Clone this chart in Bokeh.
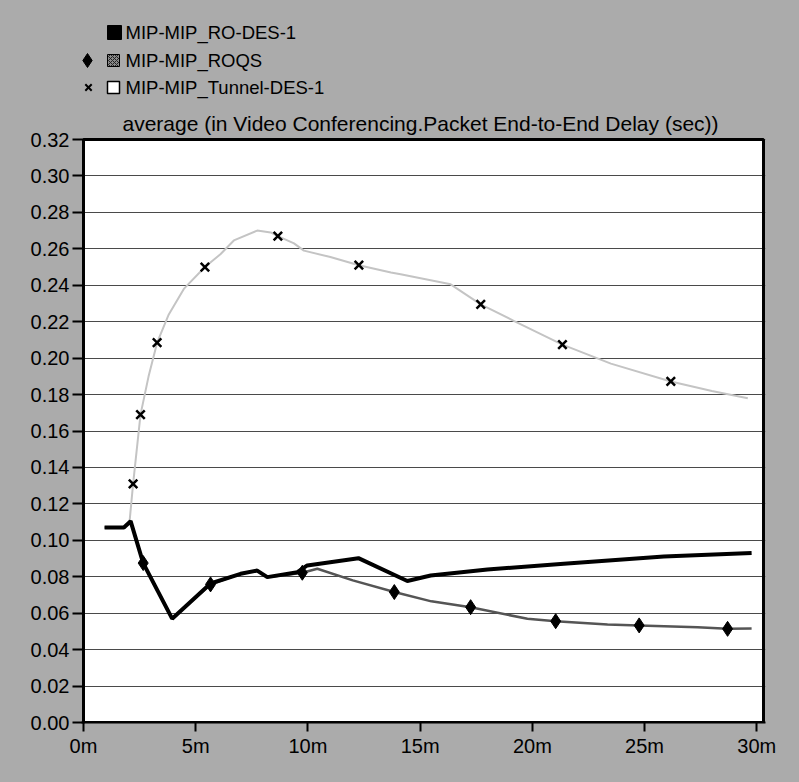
from bokeh.plotting import figure
from bokeh.models import Range1d, FixedTicker, PrintfTickFormatter
from bokeh.embed import file_html
from bokeh.resources import INLINE
from bokeh.core.properties import value

# ---------------- data ----------------
title_text = "average (in Video Conferencing.Packet End-to-End Delay (sec))"
series_names = ["MIP-MIP_RO-DES-1", "MIP-MIP_ROQS", "MIP-MIP_Tunnel-DES-1"]

x_ticks = [0, 5, 10, 15, 20, 25, 30]
y_ticks = [0.00, 0.02, 0.04, 0.06, 0.08, 0.10, 0.12, 0.14, 0.16,
           0.18, 0.20, 0.22, 0.24, 0.26, 0.28, 0.30, 0.32]

ro_x = [0.94, 1.80, 2.10, 2.66, 3.95, 5.66, 7.00, 7.74, 8.19, 9.53, 9.97,
        12.25, 14.43, 15.47, 18.0, 21.4, 25.86, 29.77]
ro_y = [0.107, 0.107, 0.1105, 0.0875, 0.057, 0.0763, 0.0816, 0.0834, 0.0798,
        0.0825, 0.0862, 0.0902, 0.0777, 0.0807, 0.0840, 0.0871, 0.0911, 0.0930]

roqs_x = [0.94, 1.80, 2.10, 2.66, 3.95, 5.66, 7.00, 7.74, 8.19, 9.00, 9.75,
          10.42, 12.0, 13.85, 15.5, 17.25, 19.78, 21.04, 23.35, 24.76, 27.36,
          28.70, 29.77]
roqs_y = [0.107, 0.107, 0.1105, 0.0875, 0.057, 0.0758, 0.0816, 0.0834, 0.0798,
          0.0810, 0.0822, 0.0844, 0.0780, 0.0716, 0.0665, 0.0633, 0.0569,
          0.0556, 0.0538, 0.0533, 0.0523, 0.0514, 0.0516]
roqs_mx = [2.66, 5.66, 9.75, 13.85, 17.25, 21.04, 24.76, 28.70]
roqs_my = [0.0875, 0.0758, 0.0822, 0.0716, 0.0633, 0.0556, 0.0533, 0.0514]

tun_x = [2.05, 2.21, 2.54, 2.90, 3.28, 3.80, 4.47, 5.41, 6.10, 6.70, 7.74,
         8.34, 8.66, 9.38, 9.82, 11.0, 12.27, 13.7, 14.13, 16.36, 17.7,
         19.17, 21.34, 23.5, 26.17, 28.0, 29.6]
tun_y = [0.110, 0.131, 0.169, 0.190, 0.2085, 0.224, 0.238, 0.250, 0.257,
         0.2646, 0.270, 0.269, 0.267, 0.263, 0.259, 0.2555, 0.251, 0.247,
         0.246, 0.2405, 0.2295, 0.2205, 0.2074, 0.197, 0.1872, 0.182, 0.178]
tun_mx = [2.21, 2.54, 3.28, 5.41, 8.66, 12.27, 17.7, 21.34, 26.17]
tun_my = [0.131, 0.169, 0.2085, 0.250, 0.267, 0.251, 0.2295, 0.2074, 0.1872]

# ---------------- style / layout ----------------
BG = "#ababab"
FONT = "Liberation Sans"
W, H = 799, 782
# plot box (the white area) in canvas pixels
BL, BR, BT, BB = 83, 763, 139, 722
X_LO, X_HI = 0.0, 30.3          # data values at BL and BR
Y_LO, Y_HI = 0.0, 0.32          # data values at BB and BT
PAD = 2                         # frame extends a little beyond the box sides
xs = (X_HI - X_LO) / (BR - BL)  # data units per pixel
ys = (Y_HI - Y_LO) / (BB - BT)

# the frame covers the box plus the whole header (title + legend) above it
x_range = Range1d(X_LO - PAD * xs, X_HI + PAD * xs)
y_range = Range1d(Y_LO, Y_HI + BT * ys)

p = figure(width=W, height=H, x_range=x_range, y_range=y_range,
           toolbar_location=None, output_backend="svg",
           min_border_left=BL - PAD, min_border_right=W - BR - PAD,
           min_border_top=0, min_border_bottom=H - BB,
           background_fill_color=BG, border_fill_color=None,
           outline_line_color=None)
p.styles = {"background-color": BG}

def cx(px):
    return X_LO + (px - BL) * xs

def cy(py):
    return Y_LO + (BB - py) * ys

p.xgrid.visible = False
p.ygrid.grid_line_color = "#4a4a4a"
p.ygrid.grid_line_width = 1.2

p.xaxis.ticker = FixedTicker(ticks=x_ticks)
p.yaxis.ticker = FixedTicker(ticks=y_ticks)
p.xaxis.formatter = PrintfTickFormatter(format="%dm")
p.yaxis.formatter = PrintfTickFormatter(format="%.2f")
for ax in (p.xaxis, p.yaxis):
    ax.axis_line_color = "black"
    ax.axis_line_width = 2
    ax.major_tick_line_color = "black"
    ax.major_tick_line_width = 2
    ax.major_tick_out = 9
    ax.minor_tick_line_color = None
    ax.major_label_text_font = FONT
    ax.major_label_text_font_size = "20px"
    ax.major_label_text_color = "black"
p.xaxis.major_tick_in = 0
p.xaxis.major_label_standoff = 3
p.yaxis.axis_line_color = None
p.yaxis.major_tick_in = PAD + 1
p.yaxis.major_label_standoff = 3

# white plot box, drawn below the grid
p.quad(left=[X_LO], right=[X_HI], bottom=[Y_LO - 0.01], top=[Y_HI],
       fill_color="white", line_color=None, level="image")

# data series
p.line(tun_x, tun_y, line_color="#c4c4c4", line_width=2)
p.line(roqs_x, roqs_y, line_color="#555555", line_width=2.5)
p.line(ro_x, ro_y, line_color="black", line_width=4)
p.scatter(roqs_mx, roqs_my, marker="diamond", size=15, fill_color="black", line_color="black")
p.scatter(tun_mx, tun_my, marker="x", size=12, line_color="black", line_width=2.5)

# plot box border
p.quad(left=[X_LO], right=[X_HI], bottom=[Y_LO], top=[Y_HI],
       fill_color=None, line_color="black", line_width=3)

# title
p.text([cx(420)], [cy(123)], text=[title_text], text_font=value(FONT),
       text_font_size="21px", text_align="center", text_baseline="middle",
       text_color="black")

# legend
rows = [cy(32), cy(60), cy(87)]
p.scatter([cx(114)], [rows[0]], marker="square", size=14, fill_color="black", line_color="black")
p.scatter([cx(113)], [rows[1]], marker="square", size=12, fill_color="#8a8a8a", line_color="black",
          hatch_pattern="x", hatch_color="#222222", hatch_scale=4, hatch_weight=1)
p.scatter([cx(113)], [rows[2]], marker="square", size=12, fill_color="white", line_color="black",
          line_width=1.5)
p.scatter([cx(87)], [rows[1]], marker="diamond", size=14, fill_color="black", line_color="black")
p.scatter([cx(88)], [rows[2]], marker="x", size=9, line_color="black", line_width=2)
p.text([cx(125)] * 3, rows, text=series_names, text_font=value(FONT),
       text_font_size="18.5px", text_baseline="middle", text_align="left", text_color="black")

open("out.html", "w").write(file_html(p, INLINE))
